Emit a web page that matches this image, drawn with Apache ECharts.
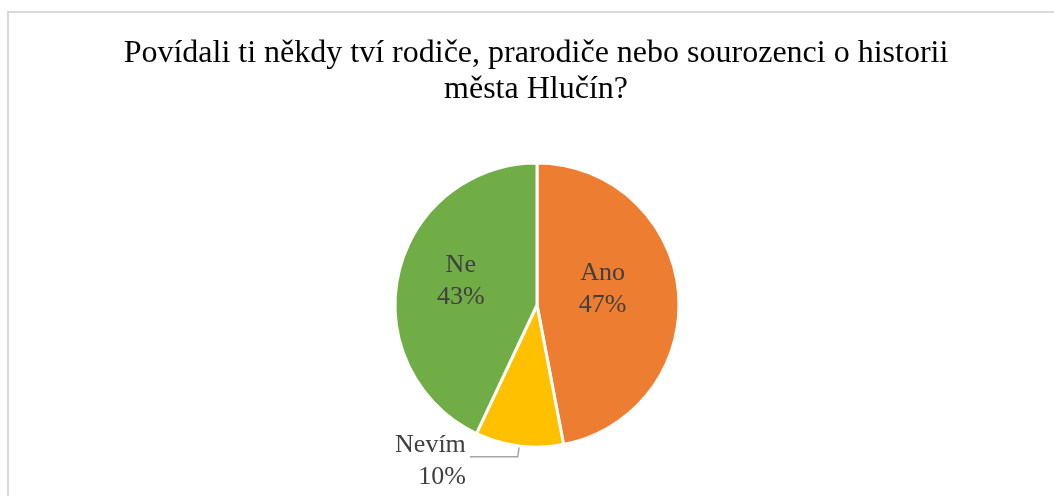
<!DOCTYPE html>
<html>
<head>
<meta charset="utf-8">
<script src="https://cdn.jsdelivr.net/npm/echarts@6/dist/echarts.min.js"></script>
<style>
  html, body { margin: 0; padding: 0; background: #fff; }
  #frame { position: absolute; left: 7px; top: 11px; width: 1100px; height: 520px; border: 2px solid #d9d9d9; box-sizing: border-box; }
  #myChart { position: absolute; left: 0; top: 0; width: 1054px; height: 496px; }
</style>
</head>
<body>
<div id="frame"></div>
<div id="myChart"></div>
<script>
// data
var categories = ['Ano', 'Nevím', 'Ne']
var values = [47, 10, 43]
var colors = ['#ED7D31', '#FFC000', '#70AD47']
var titleText = 'Povídali ti někdy tví rodiče, prarodiče nebo sourozenci o historii\nměsta Hlučín?'

var serif = '"Liberation Serif", "DejaVu Serif", serif'

var myChart = echarts.init(document.getElementById('myChart'))

var pieData = categories.map(function (name, i) {
  var item = { name: name, value: values[i], itemStyle: { color: colors[i] } }
  if (name === 'Nevím') {
    // jediný popisek mimo výseč
    item.label = { position: 'outside', color: '#404040', distanceToLabelLine: 4 }
    item.labelLine = { show: true, length: 11, length2: 48, lineStyle: { color: '#a6a6a6', width: 1.5 } }
  }
  return item
})

// drobné posunutí popisků
var labelShift = { 'Ano': [-8, -9], 'Ne': [-4, -8], 'Nevím': [0, 4] }

myChart.setOption({
  animation: false,
  title: {
    text: titleText,
    left: 531,
    textAlign: 'center',
    top: 31,
    textStyle: {
      fontFamily: serif,
      fontWeight: 'normal',
      fontSize: 32,
      lineHeight: 36,
      color: '#000'
    }
  },
  series: [
    {
      type: 'pie',
      center: [537, 305],
      radius: 142,
      startAngle: 90,
      clockwise: true,
      avoidLabelOverlap: false,
      itemStyle: { borderColor: '#fff', borderWidth: 3 },
      label: {
        show: true,
        position: 'inside',
        formatter: '{b}\n{d}%',
        fontFamily: serif,
        fontSize: 26,
        lineHeight: 32,
        color: '#404040'
      },
      labelLine: { show: false },
      labelLayout: function (params) {
        var s = labelShift[categories[params.dataIndex]]
        return s ? { dx: s[0], dy: s[1] } : {}
      },
      emphasis: { disabled: true },
      data: pieData
    }
  ]
})
</script>
</body>
</html>
